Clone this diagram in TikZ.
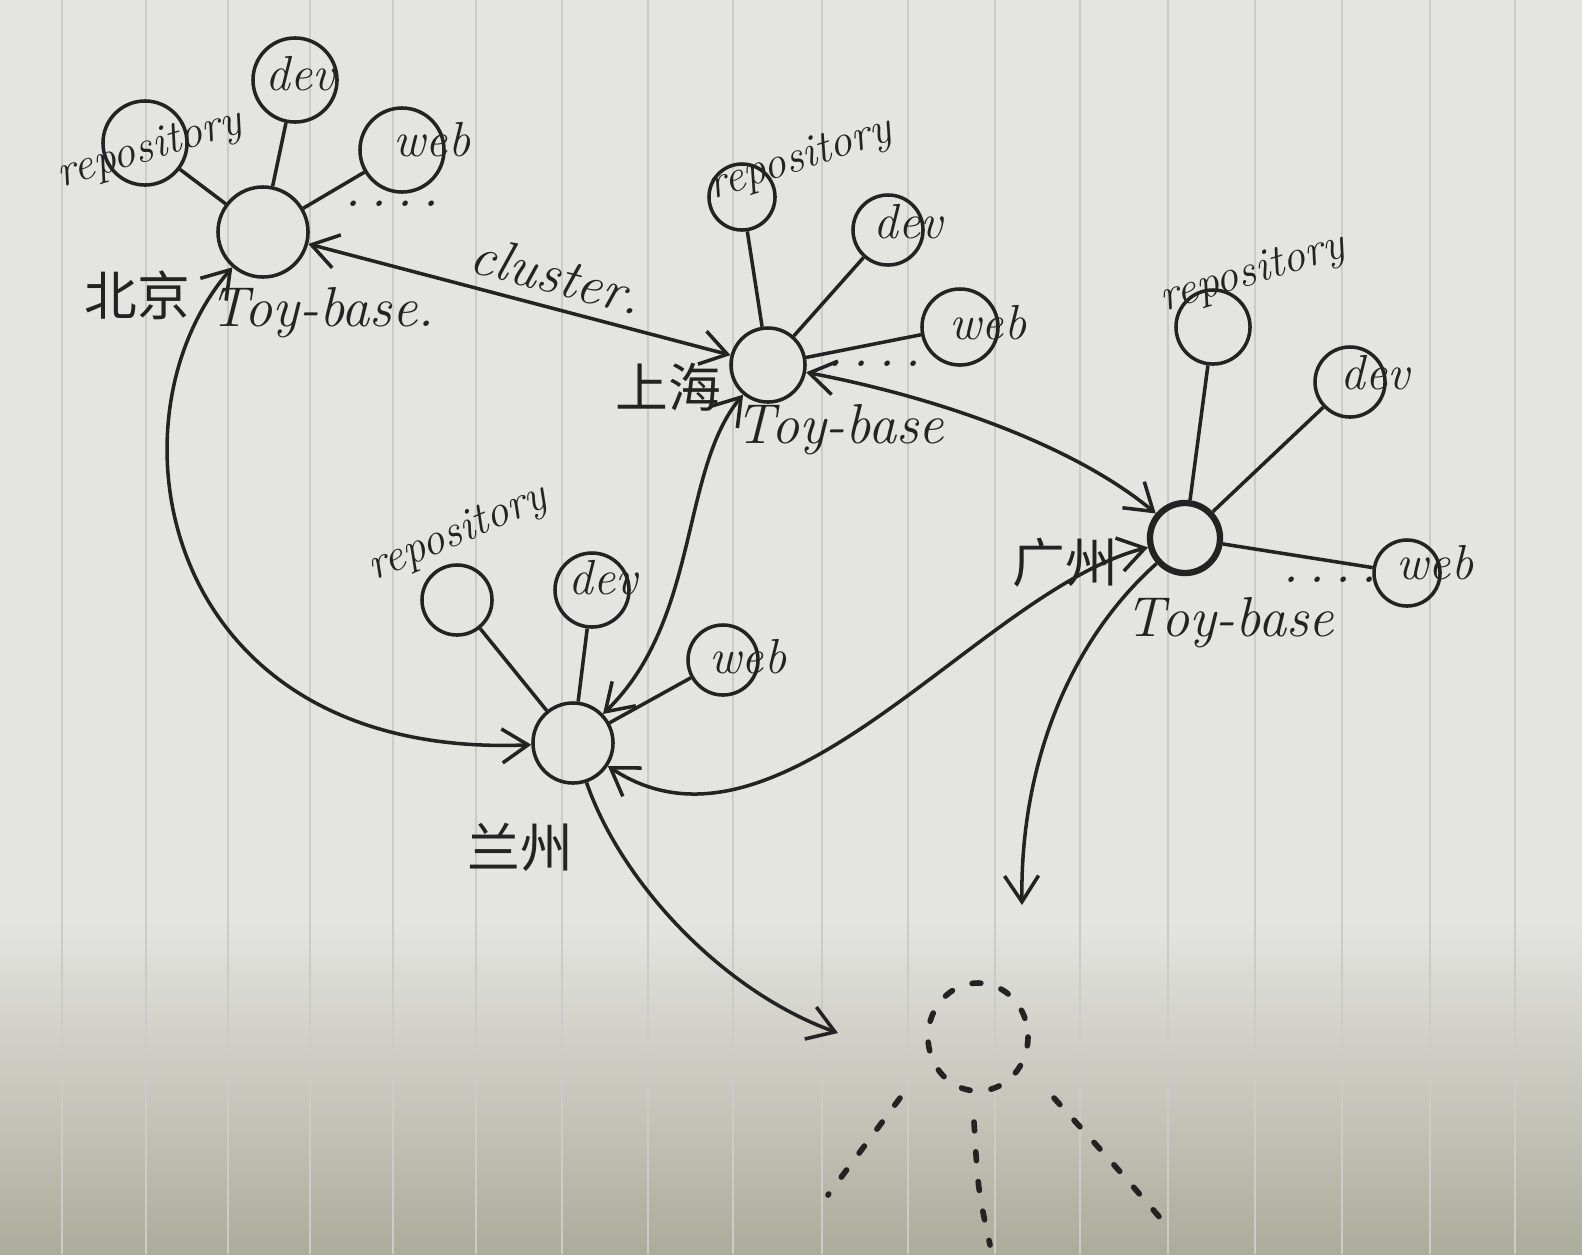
\documentclass[tikz,border=0pt]{standalone}
\usepackage{fontspec}
\newfontfamily\cjk{Noto Sans CJK SC}
\usetikzlibrary{arrows.meta}

\definecolor{paper}{RGB}{228,228,225}
\definecolor{paperdark}{RGB}{172,172,156}
\definecolor{rule}{RGB}{203,203,200}
\definecolor{ink}{RGB}{35,35,35}

\begin{document}
\begin{tikzpicture}[x=0.01cm,y=-0.01cm]

\tikzset{hub/.style = {shape=circle,draw=ink,line width=1pt,minimum size=0.8cm,inner sep=0pt}}
\tikzset{sat/.style = {shape=circle,draw=ink,line width=1pt,minimum size=0.7cm,inner sep=0pt}}
\tikzset{spoke/.style = {draw=ink,line width=1pt}}
\tikzset{edge/.style = {<->,> = {Straight Barb[length=2.6mm,width=3.4mm]},draw=ink,line width=1pt}}
\tikzset{oneway/.style = {edge,->}}
\tikzset{word/.style = {font=\itshape\fontsize{14}{16}\selectfont,text=ink,inner sep=1pt}}
\tikzset{repo/.style = {font=\itshape\fontsize{13}{15}\selectfont,text=ink,inner sep=1pt}}
\tikzset{hand/.style = {font=\itshape\fontsize{16}{19}\selectfont,text=ink}}
\tikzset{city/.style = {font=\cjk\fontsize{15}{18}\selectfont,text=ink}}
\tikzset{dotty/.style = {draw=ink,line width=1.6pt,dash pattern=on 2.5pt off 6pt,line cap=round}}

%paper
\useasboundingbox (0,0) rectangle (1582,1254);
\fill[paper] (0,0) rectangle (1582,921);
\shade[top color=paper,bottom color=paperdark] (0,920) rectangle (1582,1254);
\foreach \x in {62,146,228,310,393,476,562,648,733,822,908,995,1080,1168,1255,1342,1430,1515}
  \draw[rule,line width=0.6pt] (\x,0) -- (\x,1254);

%beijing
\node[hub, minimum size=0.9cm] (bj) at (263,232) {};
\node[sat, minimum size=0.84cm] (bjrepo) at (145,143) {};
\node[sat, minimum size=0.84cm] (bjdev) at (295,80) {};
\node[sat, minimum size=0.84cm] (bjweb) at (402,150) {};
\node[repo, rotate=17] (bjrepot) at (150,150) {repository};
\node[word] (bjdevt) at (300,74) {dev};
\node[word] (bjwebt) at (432,140) {web};
\node[hand] (bjdots) at (392,204) {.\,.\,.\,.};
\node[hand] (bjbase) at (322,313) {Toy-base.};
\node[city] (bjname) at (137,295) {北京};
\draw[spoke] (bj) -- (bjrepo);
\draw[spoke] (bj) -- (bjdev);
\draw[spoke] (bj) -- (bjweb);

%shanghai
\node[hub, minimum size=0.74cm] (sh) at (768,365) {};
\node[sat, minimum size=0.66cm] (shrepo) at (742,197) {};
\node[sat, minimum size=0.7cm] (shdev) at (888,230) {};
\node[sat, minimum size=0.76cm] (shweb) at (960,327) {};
\node[repo, rotate=18] (shrepot) at (800,160) {repository};
\node[word] (shdevt) at (908,222) {dev};
\node[word] (shwebt) at (988,323) {web};
\node[hand] (shdots) at (874,364) {.\,.\,.\,.};
\node[hand] (shbase) at (840,430) {Toy-base};
\node[city] (shname) at (668,387) {上海};
\draw[spoke] (sh) -- (shrepo);
\draw[spoke] (sh) -- (shdev);
\draw[spoke] (sh) -- (shweb);

%guangzhou
\node[hub, minimum size=0.7cm, line width=1.8pt] (gz) at (1185,538) {};
\node[sat, minimum size=0.74cm] (gzrepo) at (1213,327) {};
\node[sat, minimum size=0.7cm] (gzdev) at (1350,382) {};
\node[sat, minimum size=0.66cm] (gzweb) at (1407,573) {};
\node[repo, rotate=17] (gzrepot) at (1253,274) {repository};
\node[word] (gzdevt) at (1375,373) {dev};
\node[word] (gzwebt) at (1435,563) {web};
\node[hand] (gzdots) at (1330,580) {.\,.\,.\,.};
\node[hand] (gzbase) at (1230,623) {Toy-base};
\node[city] (gzname) at (1065,563) {广州};
\draw[spoke] (gz) -- (gzrepo);
\draw[spoke] (gz) -- (gzdev);
\draw[spoke] (gz) -- (gzweb);

%lanzhou
\node[hub] (lz) at (573,743) {};
\node[sat] (lzrepo) at (457,600) {};
\node[sat, minimum size=0.74cm] (lzdev) at (592,590) {};
\node[sat] (lzweb) at (723,660) {};
\node[repo, rotate=23] (lzrepot) at (458,534) {repository};
\node[word] (lzdevt) at (603,578) {dev};
\node[word] (lzwebt) at (748,657) {web};
\node[city] (lzname) at (520,847) {兰州};
\draw[spoke] (lz) -- (lzrepo);
\draw[spoke] (lz) -- (lzdev);
\draw[spoke] (lz) -- (lzweb);

%links
\coordinate (lzend) at (838,1033);
\coordinate (gzend) at (1022,905);
\draw[edge] (bj) -- node[hand, above, sloped, pos=0.57] {cluster.} (sh);
\draw[edge] (bj) .. controls (100,420) and (160,760) .. (lz);
\draw[edge] (sh) .. controls (680,470) and (700,620) .. (lz);
\draw[edge] (sh) .. controls (950,400) and (1080,450) .. (gz);
\draw[edge] (gz) .. controls (980,590) and (780,880) .. (lz);
\draw[oneway] (lz) .. controls (620,880) and (720,990) .. (lzend);
\draw[oneway] (gz) .. controls (1060,650) and (1020,780) .. (gzend);

%dotted figure
\draw[dotty] (978,1037) ellipse [x radius=50, y radius=54];
\draw[dotty] (900,1098) -- (828,1195);
\draw[dotty] (974,1122) .. controls (978,1190) .. (990,1245);
\draw[dotty] (1054,1098) .. controls (1110,1160) .. (1162,1220);

\end{tikzpicture}
\end{document}
